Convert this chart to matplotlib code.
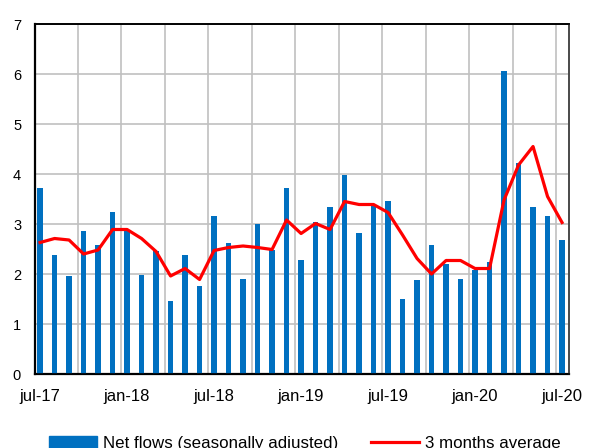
import numpy as np
import matplotlib.pyplot as plt
from matplotlib.patches import Patch
from matplotlib.lines import Line2D

plt.rcParams['font.family'] = ['Liberation Sans', 'DejaVu Sans']

# monthly data, jul-17 .. jul-20
net_flows = [3.71, 2.37, 1.96, 2.86, 2.59, 3.23, 2.87, 1.99, 2.45, 1.47, 2.37, 1.77,
             3.15, 2.63, 1.91, 3.00, 2.48, 3.71, 2.29, 3.04, 3.34, 3.98, 2.81, 3.35,
             3.45, 1.50, 1.88, 2.59, 2.21, 1.91, 2.08, 2.25, 6.05, 4.21, 3.34, 3.15, 2.67]
avg_3m = [2.63, 2.71, 2.68, 2.40, 2.48, 2.89, 2.89, 2.71, 2.45, 1.96, 2.11, 1.89,
          2.47, 2.53, 2.56, 2.53, 2.49, 3.08, 2.81, 3.01, 2.89, 3.45, 3.39, 3.39,
          3.23, 2.78, 2.31, 2.00, 2.27, 2.27, 2.11, 2.11, 3.48, 4.18, 4.55, 3.55, 3.03]
tick_labels = ["jul-17", "jan-18", "jul-18", "jan-19", "jul-19", "jan-20", "jul-20"]

blue = "#0070C0"
red = "#FF0000"

fig = plt.figure(figsize=(5.89, 4.48), dpi=100)
ax = fig.add_axes([35/589, 1-374/448, 534/589, 350/448])

x = np.arange(len(net_flows))
ax.bar(x, net_flows, width=0.38, color=blue, zorder=3)
ax.plot(x, avg_3m, color=red, lw=2.3, zorder=4, solid_joinstyle='round')

ax.set_xlim(-0.35, 36.48)
ax.set_ylim(0, 7)
ax.set_yticks(range(8))

# vertical gridlines every quarter
for gx in np.arange(2.6, 36, 3):
    ax.axvline(gx, color="#c0c0c0", lw=1.2, zorder=1)
ax.grid(axis='y', color="#c0c0c0", lw=1.2, zorder=1)

ax.set_xticks(x[::6])
ax.set_xticklabels(tick_labels)
ax.tick_params(axis='x', length=0, pad=11, labelsize=12)
ax.tick_params(axis='y', length=0, pad=10, labelsize=10.5)

ax2 = ax.twinx()
ax2.set_ylim(0, 7)
ax2.set_yticks(range(8))
ax2.tick_params(axis='y', length=0, pad=14, labelsize=10.5)

for a in (ax, ax2):
    for s in a.spines.values():
        s.set_color("black")
        s.set_linewidth(1.2)
ax.spines['left'].set_linewidth(1.6)
ax.spines['bottom'].set_linewidth(1.6)
ax2.spines['right'].set_color("#555555")

handles = [Patch(color=blue), Line2D([], [], color=red, lw=2.3)]
fig.legend(handles, ["Net flows (seasonally adjusted)", "3 months average"],
           ncol=2, loc='center left', bbox_to_anchor=(49/589, 1-443/448), frameon=False,
           fontsize=12.2, handlelength=2.85, handletextpad=0.36,
           columnspacing=1.9, borderpad=0, borderaxespad=0)

fig.savefig("out.png", dpi=100)
